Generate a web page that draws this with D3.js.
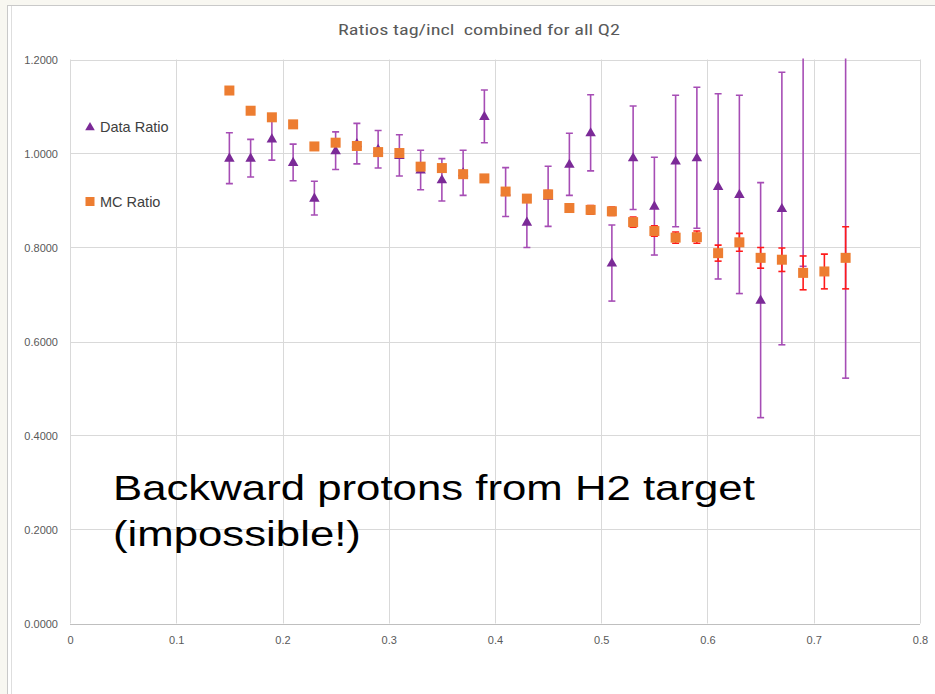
<!DOCTYPE html>
<html>
<head>
<meta charset="utf-8">
<script src="https://cdn.jsdelivr.net/npm/d3@7"></script>
<style>
  html, body { margin: 0; padding: 0; background: #f8f7f1; }
  svg { display: block; }
</style>
</head>
<body>
<svg id="chart" width="935" height="694"></svg>
<script>
// Tag / inclusive ratios versus x, data and MC
const dataX   = [0.15, 0.17, 0.19, 0.21, 0.23, 0.25, 0.27, 0.29, 0.31, 0.33, 0.35, 0.37, 0.39, 0.41, 0.43,
                 0.45, 0.47, 0.49, 0.51, 0.53, 0.55, 0.57, 0.59, 0.61, 0.63, 0.65, 0.67, 0.69, 0.73];
const dataRatio = [0.990, 0.990, 1.031, 0.981, 0.905, 1.006, 1.021, 1.009, 0.996, 0.965, 0.944, 0.959, 1.079, 0.918, 0.854,
                   0.909, 0.977, 1.044, 0.767, 0.991, 0.888, 0.984, 0.991, 0.930, 0.913, 0.688, 0.883, 1.300, 1.300];
const dataErr = [0.054, 0.040, 0.045, 0.039, 0.036, 0.040, 0.043, 0.040, 0.044, 0.042, 0.045, 0.048, 0.056, 0.052, 0.054,
                 0.064, 0.066, 0.081, 0.081, 0.110, 0.104, 0.140, 0.150, 0.197, 0.211, 0.250, 0.290, 0.540, 0.778];

const mcX     = [0.15, 0.17, 0.19, 0.21, 0.23, 0.25, 0.27, 0.29, 0.31, 0.33, 0.35, 0.37, 0.39, 0.41, 0.43,
                 0.45, 0.47, 0.49, 0.51, 0.53, 0.55, 0.57, 0.59, 0.61, 0.63, 0.65, 0.67, 0.69, 0.71, 0.73];
const mcRatio = [1.134, 1.091, 1.077, 1.062, 1.015, 1.023, 1.016, 1.003, 1.001, 0.972, 0.969, 0.956, 0.947, 0.919, 0.904,
                 0.913, 0.884, 0.880, 0.877, 0.854, 0.835, 0.821, 0.822, 0.788, 0.811, 0.778, 0.774, 0.746, 0.749, 0.778];
const mcErr   = [0.004, 0.004, 0.004, 0.004, 0.004, 0.005, 0.005, 0.005, 0.005, 0.005, 0.006, 0.006, 0.006, 0.007, 0.007,
                 0.008, 0.008, 0.009, 0.009, 0.011, 0.011, 0.012, 0.013, 0.017, 0.019, 0.022, 0.025, 0.036, 0.037, 0.066];

const xTicks = [0, 0.1, 0.2, 0.3, 0.4, 0.5, 0.6, 0.7, 0.8];
const yTicks = [0, 0.2, 0.4, 0.6, 0.8, 1.0, 1.2];

const titleText = "Ratios tag/incl  combined for all Q2";
const noteLines = ["Backward protons from H2 target", "(impossible!)"];
const seriesNames = ["Data Ratio", "MC Ratio"];

const svg = d3.select("#chart");
const W = 935, H = 694;
const plot = { left: 70, right: 920, top: 59.5, bottom: 623.5 };

const x = d3.scaleLinear().domain([0, 0.8]).range([plot.left, plot.right]);
const y = d3.scaleLinear().domain([0, 1.2]).range([plot.bottom, plot.top]);

// frame of the chart object
svg.append("rect").attr("x", 7.5).attr("y", 5.5).attr("width", W).attr("height", H)
  .attr("fill", "#ffffff").attr("stroke", "#c9c9c9").attr("stroke-width", 1);
svg.append("line").attr("x1", 11.5).attr("x2", 11.5).attr("y1", 6).attr("y2", H)
  .attr("stroke", "#dedede").attr("stroke-width", 1);

// title (wide, condensed face)
svg.append("text").attr("x", 479).attr("y", 35).attr("text-anchor", "middle")
  .attr("font-family", "'Liberation Sans Narrow', 'Roboto Condensed', 'Liberation Sans', sans-serif")
  .style("font-stretch", "condensed").style("white-space", "pre")
  .attr("font-size", 15.5).attr("fill", "#595959")
  .attr("textLength", 282).attr("lengthAdjust", "spacingAndGlyphs")
  .text(titleText);

// gridlines
const grid = svg.append("g");
grid.selectAll("line.h").data(yTicks).join("line")
  .attr("x1", plot.left).attr("x2", plot.right)
  .attr("y1", d => Math.round(y(d)) + 0.5).attr("y2", d => Math.round(y(d)) + 0.5)
  .attr("stroke", d => d === 0 ? "#bfbfbf" : "#d9d9d9").attr("stroke-width", 1);
grid.selectAll("line.v").data(xTicks).join("line")
  .attr("y1", plot.top).attr("y2", plot.bottom)
  .attr("x1", d => Math.round(x(d)) + 0.5).attr("x2", d => Math.round(x(d)) + 0.5)
  .attr("stroke", "#d9d9d9").attr("stroke-width", 1);

// axes (labels only; lines are the gridlines)
const yAxis = d3.axisLeft(y).tickValues(yTicks).tickFormat(d3.format(".4f")).tickSize(0).tickPadding(12);
const gy = svg.append("g").attr("transform", `translate(${plot.left},0)`).call(yAxis);
gy.select(".domain").remove();
gy.selectAll("text").attr("font-family", "'Liberation Sans', Arial, sans-serif")
  .attr("font-size", 11).attr("fill", "#595959");

const xAxis = d3.axisBottom(x).tickValues(xTicks).tickFormat(d => d3.format("")(d)).tickSize(0).tickPadding(13);
const gx = svg.append("g").attr("transform", `translate(0,${plot.bottom})`).call(xAxis);
gx.select(".domain").remove();
gx.selectAll("text").attr("font-family", "'Liberation Sans', Arial, sans-serif")
  .attr("font-size", 11).attr("fill", "#595959");

// clip for marks
svg.append("clipPath").attr("id", "plotClip").append("rect")
  .attr("x", plot.left).attr("y", plot.top - 1).attr("width", plot.right - plot.left).attr("height", plot.bottom - plot.top + 2);
const marks = svg.append("g").attr("clip-path", "url(#plotClip)");

const dataPts = dataX.map((v, i) => ({ x: v, y: dataRatio[i], e: dataErr[i] }));
const mcPts = mcX.map((v, i) => ({ x: v, y: mcRatio[i], e: mcErr[i] }));

function errorBars(g, pts, color, width) {
  const cap = 3.5;
  const eb = g.append("g").attr("stroke", color).attr("stroke-width", width).attr("fill", "none");
  pts.forEach(p => {
    const px = x(p.x), y0 = y(p.y - p.e), y1 = y(p.y + p.e);
    eb.append("line").attr("x1", px).attr("x2", px).attr("y1", y0).attr("y2", y1);
    eb.append("line").attr("x1", px - cap).attr("x2", px + cap).attr("y1", y0).attr("y2", y0);
    eb.append("line").attr("x1", px - cap).attr("x2", px + cap).attr("y1", y1).attr("y2", y1);
  });
}

// data series
errorBars(marks, dataPts, "#a64db5", 1.6);
const tri = d3.symbol().type(d3.symbolTriangle).size(48);
marks.append("g").selectAll("path").data(dataPts).join("path")
  .attr("d", tri)
  .attr("transform", d => `translate(${x(d.x)},${y(d.y) + 0.5})`)
  .attr("fill", "#7b2a97");

// MC series
errorBars(marks, mcPts, "#ff1a1a", 1.6);
marks.append("g").selectAll("rect").data(mcPts).join("rect")
  .attr("x", d => x(d.x) - 5).attr("y", d => y(d.y) - 5)
  .attr("width", 10).attr("height", 10)
  .attr("fill", "#ed7d31");

// legend
const leg = svg.append("g").attr("font-family", "'Liberation Sans', Arial, sans-serif")
  .attr("font-size", 14.5).attr("fill", "#404040");
leg.append("path").attr("d", d3.symbol().type(d3.symbolTriangle).size(40))
  .attr("transform", "translate(90,127.5)").attr("fill", "#7b2a97");
leg.append("text").attr("x", 100).attr("y", 132).text(seriesNames[0]);
leg.append("rect").attr("x", 85.5).attr("y", 197).attr("width", 9).attr("height", 9).attr("fill", "#ed7d31");
leg.append("text").attr("x", 100).attr("y", 207).text(seriesNames[1]);

// annotation, set in a widened face
const note = svg.append("text").attr("font-family", "'Liberation Sans', Arial, sans-serif")
  .attr("font-size", 35).attr("fill", "#000000")
  .attr("transform", "translate(113,0) scale(1.25,1)");
noteLines.forEach((t, i) => {
  note.append("tspan").attr("x", 0).attr("y", 500 + i * 46).text(t);
});
</script>
</body>
</html>
